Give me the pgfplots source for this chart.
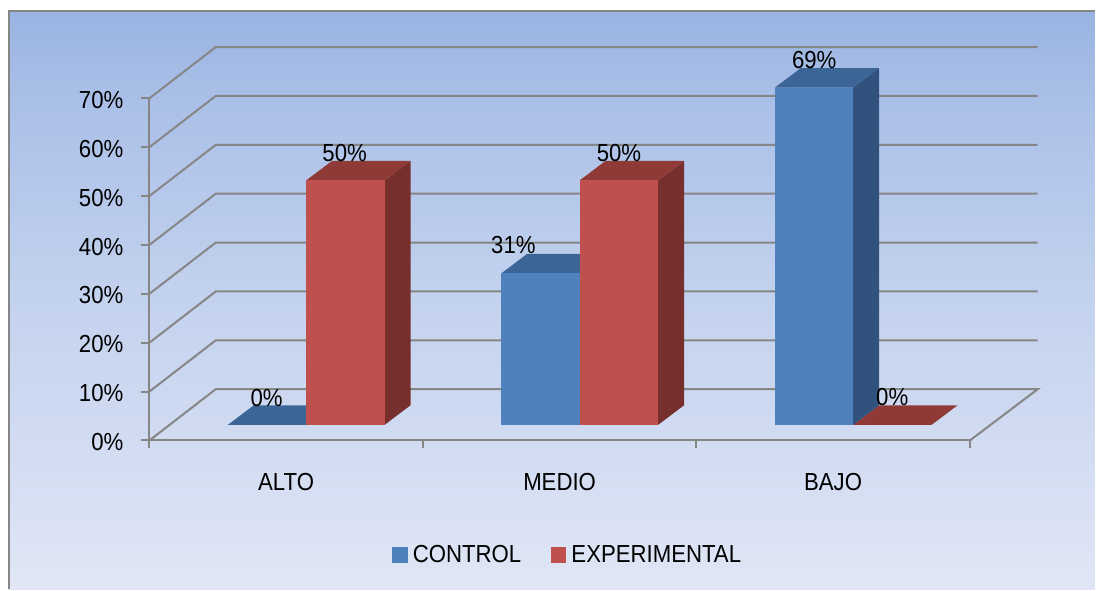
\documentclass[border=0pt]{standalone}
\usepackage{fontspec}
\setmainfont[FakeStretch=0.9]{Liberation Sans}
\usepackage{xcolor}
\usepackage{pgfplots}
\pgfplotsset{compat=1.18}

\definecolor{bg0}{HTML}{E0E6F5}
\definecolor{bg1}{HTML}{C3D2EE}
\definecolor{bg2}{HTML}{ABC0E8}
\definecolor{bg3}{HTML}{9FB8E3}
\definecolor{bg4}{HTML}{99B4E2}
\definecolor{gridc}{HTML}{868686}
\definecolor{bluefront}{HTML}{4F81BD}
\definecolor{blueside}{HTML}{30527C}
\definecolor{bluetop}{HTML}{3B6596}
\definecolor{redfront}{HTML}{C0504D}
\definecolor{redside}{HTML}{772F2D}
\definecolor{redtop}{HTML}{8F3A37}
\pgfdeclareverticalshading{chartbg}{100bp}{color(0bp)=(bg0); color(25bp)=(bg0); color(50bp)=(bg1); color(67bp)=(bg2); color(72bp)=(bg3); color(75bp)=(bg4); color(100bp)=(bg4)}

\newcommand{\lab}{\fontsize{18.5}{20}\selectfont}
\newcommand{\ent}[1]{\rule[-1pt]{0pt}{14.3pt}#1}

\begin{document}
\begin{tikzpicture}
  % page and chart background, 1px = 0.75pt
  \fill[white] (0,0) rectangle (822pt,-442.5pt);
  \shade[shading=chartbg] (6.75pt,-8.25pt) rectangle (822pt,-442.5pt);
  \draw[gridc, line width=1.9pt] (6.75pt,-442.5pt) -- (6.75pt,-8.25pt) -- (822pt,-8.25pt);

  \begin{axis}[
    at={(112.125pt,-330.75pt)}, anchor=south west,
    scale only axis, width=616.12pt, height=256.9pt,
    xmin=0, xmax=3, ymin=0, ymax=70,
    clip=false,
    axis x line=bottom, axis y line=left,
    axis line style={-, gridc, line width=1.5pt},
    tick align=outside,
    ytick={0,10,20,30,40,50,60,70},
    yticklabel={\pgfmathprintnumber{\tick}\%},
    /pgf/number format/assume math mode=true,
    xtick={0.5,1.5,2.5},
    xticklabels={ALTO,MEDIO,BAJO},
    minor xtick={0,1,2,3},
    major tick length=6pt, minor tick length=6pt,
    major x tick style={draw=none},
    minor x tick style={gridc, line width=1.5pt},
    y tick style={gridc, line width=1.5pt},
    tick label style={font=\lab, text=black},
    yticklabel style={xshift=-10pt, yshift=-1.2pt},
    xticklabel style={yshift=-15pt},
    legend style={at={(axis cs:0.886,-23.3)}, anchor=west, draw=none, fill=none,
      font=\lab, legend columns=2, inner sep=0pt,
      /tikz/every even column/.append style={column sep=20pt}},
    legend cell align=left,
    legend image code/.code={\fill[#1] (0pt,-5.6pt) rectangle (11.2pt,5.6pt); \path (13.3pt,0pt);},
    nodes near coords style={anchor=center, inner sep=0pt, font=\lab, text=black},
  ]
    % walls: each gridline runs back from the front axis, then across
    \addplot[forget plot, gridc, line width=1.5pt] coordinates {(0,0)(0.243,10.5)(3.248,10.5)(3,0)};
    \addplot[forget plot, gridc, line width=1.5pt] coordinates {(0,10)(0.243,20.5)(3.248,20.5)};
    \addplot[forget plot, gridc, line width=1.5pt] coordinates {(0,20)(0.243,30.5)(3.248,30.5)};
    \addplot[forget plot, gridc, line width=1.5pt] coordinates {(0,30)(0.243,40.5)(3.248,40.5)};
    \addplot[forget plot, gridc, line width=1.5pt] coordinates {(0,40)(0.243,50.5)(3.248,50.5)};
    \addplot[forget plot, gridc, line width=1.5pt] coordinates {(0,50)(0.243,60.5)(3.248,60.5)};
    \addplot[forget plot, gridc, line width=1.5pt] coordinates {(0,60)(0.243,70.5)(3.248,70.5)};
    \addplot[forget plot, gridc, line width=1.5pt] coordinates {(0,70)(0.243,80.5)(3.248,80.5)};

    % ALTO: control 0, experimental 50
    \addplot[forget plot, draw=none, fill=bluetop] coordinates {(0.287,3.2)(0.573,3.2)(0.668,7.2)(0.382,7.2)} -- cycle;
    \addplot[forget plot, draw=none, fill=redside] coordinates {(0.860,3.2)(0.955,7.2)(0.955,57.2)(0.860,53.2)} -- cycle;
    \addplot[forget plot, draw=none, fill=redtop] coordinates {(0.573,53.2)(0.860,53.2)(0.955,57.2)(0.668,57.2)} -- cycle;
    \addplot[forget plot, draw=none, fill=redfront] coordinates {(0.573,3.2)(0.860,3.2)(0.860,53.2)(0.573,53.2)} -- cycle;

    % MEDIO: control 31, experimental 50
    \addplot[forget plot, draw=none, fill=bluetop] coordinates {(1.287,34.2)(1.573,34.2)(1.668,38.2)(1.382,38.2)} -- cycle;
    \addplot[forget plot, draw=none, fill=bluefront] coordinates {(1.287,3.2)(1.573,3.2)(1.573,34.2)(1.287,34.2)} -- cycle;
    \addplot[forget plot, draw=none, fill=redside] coordinates {(1.860,3.2)(1.955,7.2)(1.955,57.2)(1.860,53.2)} -- cycle;
    \addplot[forget plot, draw=none, fill=redtop] coordinates {(1.573,53.2)(1.860,53.2)(1.955,57.2)(1.668,57.2)} -- cycle;
    \addplot[forget plot, draw=none, fill=redfront] coordinates {(1.573,3.2)(1.860,3.2)(1.860,53.2)(1.573,53.2)} -- cycle;

    % BAJO: control 69, experimental 0
    \addplot[forget plot, draw=none, fill=redtop] coordinates {(2.573,3.2)(2.860,3.2)(2.955,7.2)(2.668,7.2)} -- cycle;
    \addplot[forget plot, draw=none, fill=blueside] coordinates {(2.573,3.2)(2.668,7.2)(2.668,76.2)(2.573,72.2)} -- cycle;
    \addplot[forget plot, draw=none, fill=bluetop] coordinates {(2.287,72.2)(2.573,72.2)(2.668,76.2)(2.382,76.2)} -- cycle;
    \addplot[forget plot, draw=none, fill=bluefront] coordinates {(2.287,3.2)(2.573,3.2)(2.573,72.2)(2.287,72.2)} -- cycle;

    % data labels
    \addplot[forget plot, draw=none, mark=none, point meta=explicit symbolic,
      nodes near coords={\pgfplotspointmeta\%}] table[meta=val] {
      x y val
      0.429 8.6 0
      0.714 58.9 50
      1.331 39.9 31
      1.717 58.9 50
      2.431 77.9 69
      2.716 8.8 0
    };

    \addlegendimage{bluefront}
    \addlegendentry{\ent{CONTROL}}
    \addlegendimage{redfront}
    \addlegendentry{\ent{EXPERIMENTAL}}
  \end{axis}
\end{tikzpicture}
\end{document}
